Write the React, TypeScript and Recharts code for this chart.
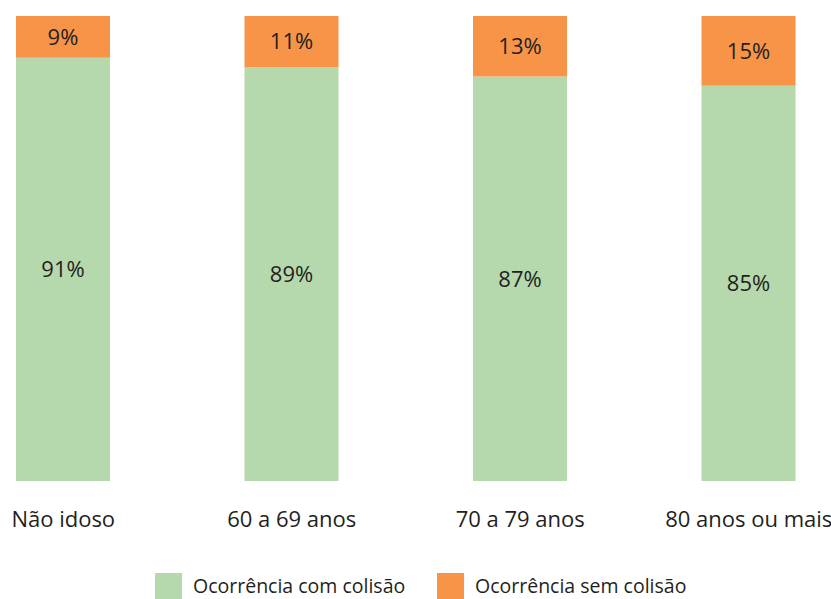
import React from 'react'
import { Bar, BarChart, XAxis, YAxis, LabelList } from 'recharts'

const categories = ['Não idoso', '60 a 69 anos', '70 a 79 anos', '80 anos ou mais']
const comColisao = [91, 89, 87, 85]
const semColisao = [9, 11, 13, 15]
const seriesNames = ['Ocorrência com colisão', 'Ocorrência sem colisão']

const GREEN = '#b6d8ad'
const ORANGE = '#f79448'
const TEXT = '#231f20'
const FONT = "'Open Sans', 'Noto Sans', sans-serif"

const data = categories.map((name, i) => ({
  name,
  com: comColisao[i],
  sem: semColisao[i],
}))

// chart is wider than the page and shifted left so the bands line up
const SHIFT = 51

const CategoryTick: React.FC<any> = ({ x, y, payload }) => (
  <text x={x} y={y} dy={38} textAnchor='middle' fill={TEXT} fontSize={22} fontFamily={FONT}>
    {payload.value}
  </text>
)

const pct = (v: any) => `${v}%`

export default function App() {
  return (
    <div style={{ position: 'absolute', left: 0, top: 0, width: 831, height: 599, overflow: 'hidden', background: '#fff' }}>
      <div style={{ position: 'absolute', left: -SHIFT, top: 0 }}>
        <BarChart width={914} height={599} data={data} margin={{ top: 16, right: 0, bottom: 0, left: 0 }} barSize={94}>
          <XAxis dataKey='name' axisLine={false} tickLine={false} tick={<CategoryTick />} interval={0} height={118} />
          <YAxis hide domain={[0, 100]} />
          <Bar dataKey='com' stackId='a' fill={GREEN} isAnimationActive={false}>
            <LabelList dataKey='com' position='center' formatter={pct} fill={TEXT} fontSize={22} fontFamily={FONT} />
          </Bar>
          <Bar dataKey='sem' stackId='a' fill={ORANGE} isAnimationActive={false}>
            <LabelList dataKey='sem' position='center' formatter={pct} fill={TEXT} fontSize={22} fontFamily={FONT} />
          </Bar>
        </BarChart>
      </div>
      <div style={{ position: 'absolute', left: 155, top: 572, fontFamily: FONT, fontSize: 19.5, color: TEXT }}>
        {[GREEN, ORANGE].map((c, i) => (
          <div key={i} style={{ position: 'absolute', left: i * 282, top: 0, display: 'flex', alignItems: 'center', whiteSpace: 'nowrap' }}>
            <span style={{ display: 'inline-block', width: 27, height: 26, background: c, marginRight: 11 }} />
            <span>{seriesNames[i]}</span>
          </div>
        ))}
      </div>
    </div>
  )
}
